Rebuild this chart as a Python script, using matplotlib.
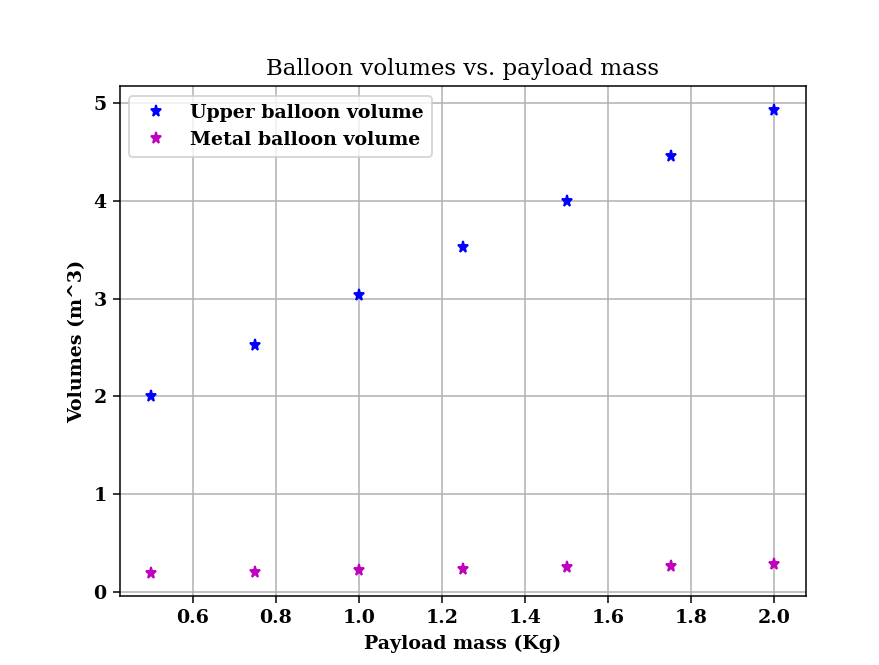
import matplotlib
matplotlib.use('Agg')
import matplotlib.pyplot as plt

payload_mass = [0.5, 0.75, 1.0, 1.25, 1.5, 1.75, 2.0]
upper_volume = [2.0, 2.53, 3.04, 3.53, 4.0, 4.46, 4.93]
metal_volume = [0.2, 0.21, 0.225, 0.24, 0.255, 0.27, 0.285]

plt.rc('font', family='DejaVu Serif', weight='bold')
plt.rc('axes', labelweight='bold')

fig = plt.figure(figsize=(879 / 137, 665 / 137), dpi=137)
ax = fig.add_axes([0.1365, 0.104, 0.78, 0.766])

ax.plot(payload_mass, upper_volume, 'b*', label='Upper balloon volume')
ax.plot(payload_mass, metal_volume, 'm*', label='Metal balloon volume')

ax.set_title('Balloon volumes vs. payload mass', fontweight='normal')
ax.set_xlabel('Payload mass (Kg)')
ax.set_ylabel('Volumes (m^3)')
ax.grid(True)
ax.legend(loc='upper left')

fig.savefig('out.png', dpi=137)
